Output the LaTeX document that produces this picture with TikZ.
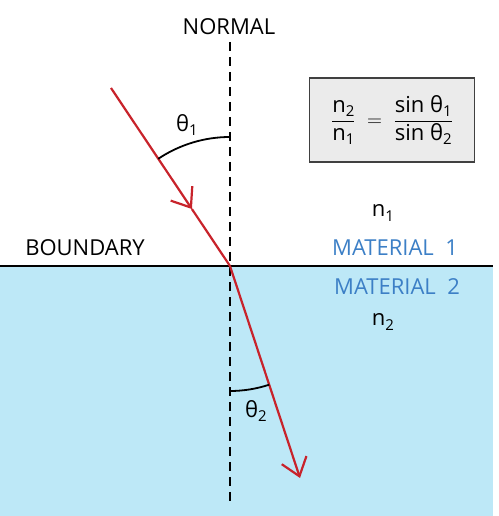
\documentclass[tikz,border=0pt]{standalone}
\usepackage{fontspec}
\setmainfont{Open Sans}
\usetikzlibrary{arrows.meta,calc}
\definecolor{water}{HTML}{BDE8F7}
\definecolor{ray}{HTML}{C8232B}
\definecolor{mat}{HTML}{3C7FC6}
\definecolor{boxfill}{HTML}{EBEBEB}
\newcommand{\subs}[1]{\raisebox{-0.35ex}{\fontsize{15}{16}\selectfont #1}}
\begin{document}
\begin{tikzpicture}[x=1pt,y=1pt,
  lbl/.style={font=\fontsize{22}{24}\selectfont, inner sep=0pt},
  matlbl/.style={lbl, text=mat},
  raystyle/.style={draw=ray, line width=2.2pt},
  tipstyle/.style={-{Straight Barb[length=17pt,width=26pt,line width=2.2pt]}},
  normalstyle/.style={line width=2.4pt, dash pattern=on 9pt off 6pt},
  anglearc/.style={line width=1.8pt}]
\useasboundingbox (0,0) rectangle (498,516);
% water
\fill[water] (0,0) rectangle (493,250);
\coordinate (BL) at (0,250);
\coordinate (BR) at (493,250);
\draw[line width=1.5pt] (BL) -- (BR);
% normal
\coordinate (Ntop) at (230,474);
\coordinate (Nbot) at (230,14);
\draw[normalstyle] (Ntop) -- (Nbot);
% rays
\coordinate (O) at (230,250);
\coordinate (A) at (111,428);
\coordinate (B) at (300,38);
\coordinate (M) at ($(A)!0.68!(O)$);
\draw[raystyle, tipstyle] (A) -- (M);
\draw[raystyle] (M) -- (O);
\draw[raystyle, tipstyle] (O) -- (B);
% angle arcs
\draw[anglearc] ($(O)+(90:129)$) arc[start angle=90, end angle=123.8, radius=129];
\draw[anglearc] ($(O)+(270:125)$) arc[start angle=270, end angle=288.3, radius=125];
% labels
\node[lbl] (normal) at (229,489) {NORMAL};
\node[lbl] (boundary) at (85,268) {BOUNDARY};
\node[matlbl] (mat1) at (395,268) {MATERIAL\ \ 1};
\node[matlbl] (mat2) at (397,229) {MATERIAL\ \ 2};
\node[lbl] (n1) at (383,303) {n\subs{1}};
\node[lbl] (n2) at (383,194) {n\subs{2}};
\node[lbl] (t1) at (187,391) {θ\subs{1}};
\node[lbl] (t2) at (256,105) {θ\subs{2}};
% formula box
\node[draw=black!75, fill=boxfill, line width=1.5pt, minimum width=165pt, minimum height=84pt,
      font=\fontsize{22}{24}\selectfont] (box) at (392,396)
  {$\displaystyle\frac{\mbox{n\subs{2}}}{\mbox{n\subs{1}}}
   \;=\;\frac{\mbox{sin θ\subs{1}}}{\mbox{sin θ\subs{2}}}$};
\end{tikzpicture}
\end{document}
